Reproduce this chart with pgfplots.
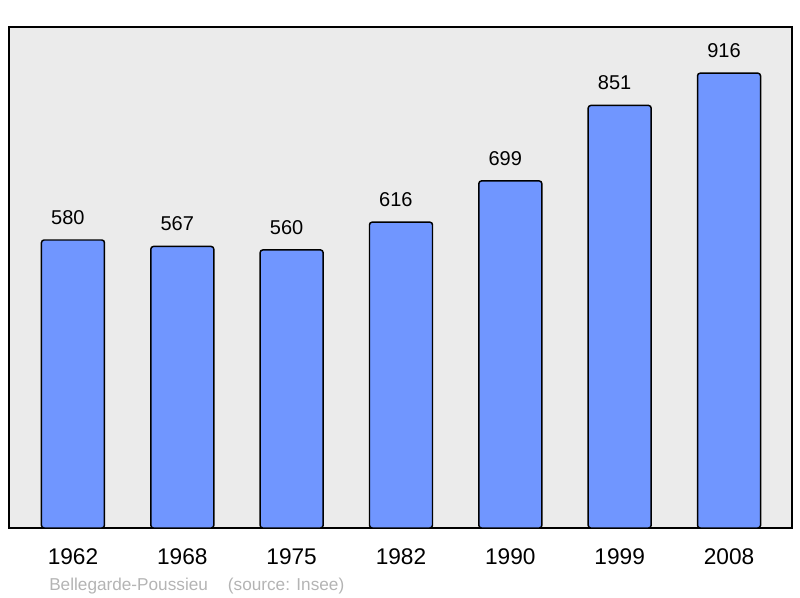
\documentclass[border=0pt]{standalone}
\usepackage{pgfplots}
\pgfplotsset{compat=1.18}
\usepackage{fontspec}
\setmainfont{Liberation Sans}
\definecolor{barblue}{RGB}{112,150,255}
\definecolor{bggray}{RGB}{235,235,235}
\definecolor{srcgray}{RGB}{180,180,180}
\begin{document}
\begin{tikzpicture}
\begin{axis}[
    scale only axis,
    width=587.25pt,
    height=375.75pt,
    xmin=-0.585, xmax=6.576,
    ymin=0, ymax=1009,
    axis background/.style={fill=bggray},
    axis line style={line width=1.5pt},
    ybar,
    bar width=47.25pt,
    xtick=data,
    xticklabels={1962,1968,1975,1982,1990,1999,2008},
    xticklabel style={font=\fontsize{17}{17}\selectfont, anchor=base, yshift=-27.75pt},
    ytick=\empty,
    major tick length=0pt,
    /pgf/number format/assume math mode=true,
    nodes near coords,
    nodes near coords style={font=\fontsize{15}{15}\selectfont, anchor=base, yshift=11.6pt, xshift=-3.8pt, inner sep=0pt},
    clip=false,
]
\addplot[draw=black, line width=1.1pt, fill=barblue, rounded corners=2pt] coordinates {
    (0,580) (1,567) (2,560) (3,616) (4,699) (5,851) (6,916)};
\end{axis}
\node[anchor=base west, text=srcgray, font=\fontsize{12.9}{13}\selectfont, inner sep=0pt]
    at ([xshift=30pt, yshift=-47.25pt]current axis.south west) {Bellegarde-Poussieu\hspace{15pt}(source: Insee)};
\pgfresetboundingbox
\path ([xshift=-6.75pt, yshift=-52.5pt]current axis.south west) rectangle ([xshift=6pt, yshift=20.25pt]current axis.north east);
\end{tikzpicture}
\end{document}
